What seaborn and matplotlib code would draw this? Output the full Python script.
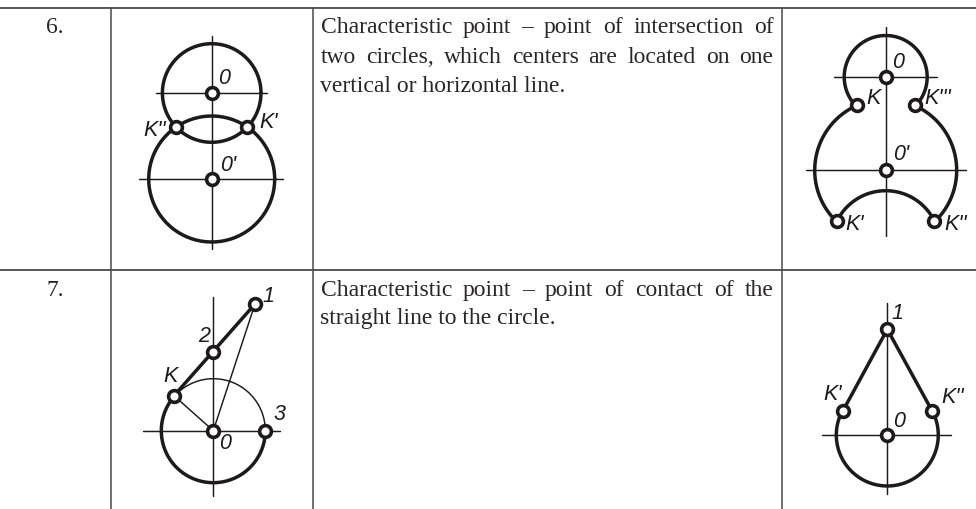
import numpy as np
import pandas as pd
import matplotlib
matplotlib.use("Agg")
import matplotlib.pyplot as plt
import seaborn as sns

sns.set_theme(style="white")

INK = "#1c1a1b"
RULE = "#4a4a4a"
TEXT = "#2a2627"
THICK = 2.5
THIN = 1.05

# --- table ---
row_rules = [9, 271]
col_rules = [110.5, 312.5, 781.5]
row_numbers = ["6.", "7."]
number_x = 55
number_base = [33, 296]
text_left, text_right = 320.5, 773.5
row6_lines = ["Characteristic point – point of intersection of",
              "two circles, which centers are located on one",
              "vertical or horizontal line."]
row6_base = [33, 63, 92.5]
row7_lines = ["Characteristic point – point of contact of the",
              "straight line to the circle."]
row7_base = [296, 324]

# --- diagram A ---
a_x = [211.7, 211.7, 176.3, 246.7]
a_y = [94, 180, 128, 128]
a_radii = [49.3, 63]
a_axes = [(211.7, 37, 211.7, 250), (155.7, 94, 267.3, 94), (139, 180, 283, 180)]
a_labels = ["0", "0'", "K''", "K'"]
a_label_x = [224, 228, 155, 269]
a_label_y = [79, 166, 131, 123]

# --- diagram B ---
b_x = [885.7, 885.7, 856.7, 914.7, 836.7, 934]
b_y = [78, 171.3, 106, 106, 221.7, 221.7]
b_radii = [41.5, 71, 54.3]
b_inner_center = (885.7, 246)
b_axes = [(885.7, 28, 885.7, 236.7), (834, 78, 936.7, 78), (805.7, 171.3, 965.7, 171.3)]
b_labels = ["0", "K", "K'''", "0'", "K'", "K''"]
b_label_x = [898, 874, 938, 901, 855, 956]
b_label_y = [63, 98, 98, 155, 225, 225]

# --- diagram C ---
c_x = [213.3, 265, 174, 213.3, 255]
c_y = [431.7, 431.7, 396.7, 352.7, 305]
c_radius = 52
c_axes = [(213.3, 297.7, 213.3, 497), (143.3, 431.7, 280, 431.7),
          (213.3, 431.7, 174, 396.7), (213.3, 431.7, 255, 305)]
c_labels = ["1", "2", "K", "3", "0"]
c_label_x = [268, 204, 171, 279, 225]
c_label_y = [297, 337, 377, 415, 444]

# --- diagram D ---
d_x = [887.3, 887.3, 843, 932]
d_y = [436, 330.3, 411.7, 411.7]
d_radius = 51
d_axes = [(887.3, 304, 887.3, 495), (821.7, 436, 950.7, 436)]
d_labels = ["1", "K'", "K''", "0"]
d_label_x = [897, 833, 953, 899]
d_label_y = [314, 395, 398, 422]

fig = plt.figure(figsize=(9.76, 5.10), dpi=100, facecolor="white")
ax = fig.add_axes([0, 0, 1, 1])
ax.set_xlim(0, 976)
ax.set_ylim(510, 0)
ax.axis("off")


def seg(p, lw):
    x0, y0, x1, y1 = p
    frame = pd.DataFrame({"x": [x0, x1], "y": [y0, y1]})
    sns.lineplot(data=frame, x="x", y="y", estimator=None, sort=False, lw=lw,
                 color=INK, ax=ax, zorder=2, legend=False)


def arc(c, r, p0, p1, lw):
    a0 = np.arctan2(p0[1] - c[1], p0[0] - c[0])
    a1 = np.arctan2(p1[1] - c[1], p1[0] - c[0])
    if a1 <= a0:
        a1 += 2 * np.pi
    t = np.linspace(a0, a1, 160)
    frame = pd.DataFrame({"x": c[0] + r * np.cos(t), "y": c[1] + r * np.sin(t)})
    sns.lineplot(data=frame, x="x", y="y", estimator=None, sort=False, lw=lw,
                 color=INK, ax=ax, zorder=2, legend=False)


def rings(xs, ys):
    sns.scatterplot(x=xs, y=ys, s=72, color="white", edgecolor=INK, linewidth=2.6,
                    ax=ax, zorder=4, legend=False)


def labels(ts, xs, ys):
    for t, x, y in zip(ts, xs, ys):
        ax.text(x, y, t, ha="center", va="center", fontsize=15.5, style="italic",
                family="Liberation Sans", color=INK, zorder=5)


# table rules
for y in row_rules:
    seg((0, y, 976, y), 1.3)
    ax.lines[-1].set_color(RULE)
for x in col_rules:
    seg((x, row_rules[0], x, 512), 1.1)
    ax.lines[-1].set_color(RULE)

# text
renderer = fig.canvas.get_renderer()
FS = 17


def write(line, base, justify):
    words = line.split(" ")
    if not justify:
        ax.text(text_left, base, line, fontsize=FS, family="Liberation Serif", color=TEXT,
                va="baseline", ha="left")
        return
    items = [ax.text(0, base, w, fontsize=FS, family="Liberation Serif", color=TEXT,
                     va="baseline", ha="left") for w in words]
    widths = [it.get_window_extent(renderer).width for it in items]
    gap = (text_right - text_left - sum(widths)) / (len(words) - 1)
    x = text_left
    for it, w in zip(items, widths):
        it.set_x(x)
        x += w + gap


for i, (ln, b) in enumerate(zip(row6_lines, row6_base)):
    write(ln, b, i < 2)
for i, (ln, b) in enumerate(zip(row7_lines, row7_base)):
    write(ln, b, i < 1)
for t, b in zip(row_numbers, number_base):
    ax.text(number_x, b, t, fontsize=FS, family="Liberation Serif", color=TEXT,
            va="baseline", ha="center")

# diagram A
for s in a_axes:
    seg(s, THIN)
for cx, cy, r in zip(a_x[:2], a_y[:2], a_radii):
    arc((cx, cy), r, (cx + r, cy), (cx + r, cy), THICK)
rings(a_x, a_y)
labels(a_labels, a_label_x, a_label_y)

# diagram B
for s in b_axes:
    seg(s, THIN)
O, O1 = (b_x[0], b_y[0]), (b_x[1], b_y[1])
K, K3 = (b_x[2], b_y[2]), (b_x[3], b_y[3])
K1, K2 = (b_x[4], b_y[4]), (b_x[5], b_y[5])
arc(O, b_radii[0], K, K3, THICK)
arc(O1, b_radii[1], K1, K, THICK)
arc(O1, b_radii[1], K3, K2, THICK)
arc(b_inner_center, b_radii[2], K1, K2, THICK)
rings(b_x, b_y)
labels(b_labels, b_label_x, b_label_y)

# diagram C
for s in c_axes:
    seg(s, THIN)
cO, c3, cK, c1 = (c_x[0], c_y[0]), (c_x[1], c_y[1]), (c_x[2], c_y[2]), (c_x[4], c_y[4])
arc(cO, c_radius, c3, cK, THICK)
arc(cO, c_radius, cK, c3, THIN)
seg((cK[0], cK[1], c1[0], c1[1]), THICK)
rings(c_x, c_y)
labels(c_labels, c_label_x, c_label_y)

# diagram D
for s in d_axes:
    seg(s, THIN)
dO, d1, dK1, dK2 = (d_x[0], d_y[0]), (d_x[1], d_y[1]), (d_x[2], d_y[2]), (d_x[3], d_y[3])
arc(dO, d_radius, dK2, dK1, THICK)
seg((dK1[0], dK1[1], d1[0], d1[1]), THICK)
seg((dK2[0], dK2[1], d1[0], d1[1]), THICK)
rings(d_x, d_y)
labels(d_labels, d_label_x, d_label_y)

fig.savefig("out.png", dpi=100, facecolor="white")
